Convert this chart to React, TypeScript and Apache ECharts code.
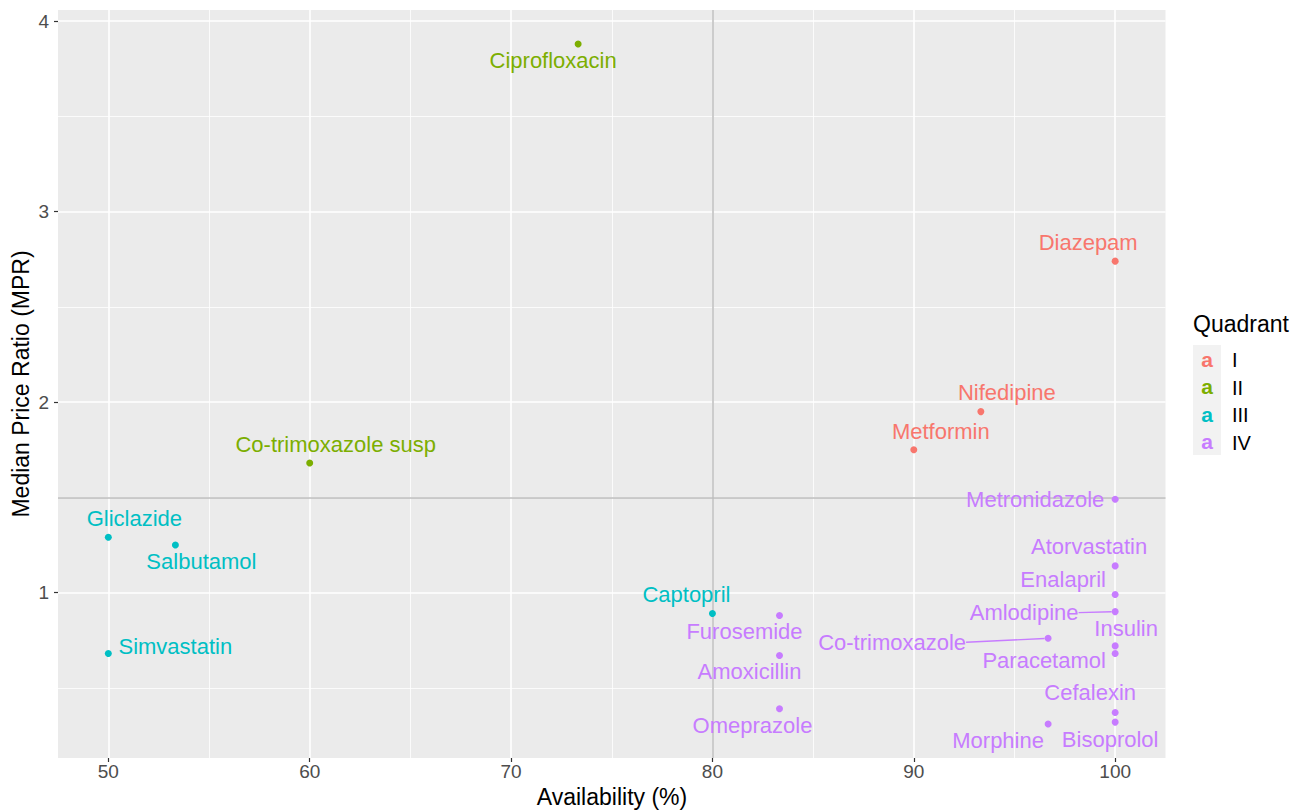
import React, { useEffect, useRef } from "react";
import * as echarts from "echarts";

// ---- data ----
const drugs = [
  "Diazepam", "Nifedipine", "Metformin", "Ciprofloxacin", "Co-trimoxazole susp",
  "Gliclazide", "Salbutamol", "Simvastatin", "Captopril", "Metronidazole",
  "Atorvastatin", "Enalapril", "Amlodipine", "Co-trimoxazole", "Insulin",
  "Paracetamol", "Furosemide", "Amoxicillin", "Omeprazole", "Cefalexin",
  "Bisoprolol", "Morphine",
];
const availability = [
  100, 93.33, 90, 73.33, 60,
  50, 53.33, 50, 80, 100,
  100, 100, 100, 96.67, 100,
  100, 83.33, 83.33, 83.33, 100,
  100, 96.67,
];
const mpr = [
  2.74, 1.95, 1.75, 3.88, 1.68,
  1.29, 1.25, 0.68, 0.89, 1.49,
  1.14, 0.99, 0.9, 0.76, 0.72,
  0.68, 0.88, 0.67, 0.39, 0.37,
  0.32, 0.31,
];
const quadrantOf = [
  "I", "I", "I", "II", "II",
  "III", "III", "III", "III", "IV",
  "IV", "IV", "IV", "IV", "IV",
  "IV", "IV", "IV", "IV", "IV",
  "IV", "IV",
];
const quadrants = ["I", "II", "III", "IV"];
const xTicks = [50, 60, 70, 80, 90, 100];
const yTicks = [1, 2, 3, 4];
const xCut = 80;
const yCut = 1.5;

// ---- styles (label placement, pixels) ----
const colors = ["#F8766D", "#7CAE00", "#00BFC4", "#C77CFF"];
const labelOffsets: number[][] = [
  [-27, -17], [26, -17], [27, -16], [-25, 18], [26, -17],
  [26, -17], [26, 19], [67, -5], [-26, -17], [-80, 2],
  [-26, -17], [-52, -13], [-91, 3], [-156, 6], [11, -15],
  [-71, 9], [-35, 18], [-30, 18], [-27, 19], [-25, -18],
  [-5, 19], [-50, 18],
];
const labelShiftY = -2;
const withConnector = ["Amlodipine", "Co-trimoxazole"];

const FONT = "Liberation Sans, Arial, Helvetica, sans-serif";

export default function App() {
  const ref = useRef<HTMLDivElement>(null);

  useEffect(() => {
    document.body.style.margin = "0";
    const chart = echarts.init(ref.current!, null, { renderer: "svg" });

    const xMin = Math.min(...availability), xMax = Math.max(...availability);
    const yMin = Math.min(...mpr), yMax = Math.max(...mpr);
    const xPad = (xMax - xMin) * 0.05, yPad = (yMax - yMin) * 0.05;

    const mid = (arr: number[]) => {
      const out: number[] = [];
      for (let i = 0; i < arr.length - 1; i++) out.push((arr[i] + arr[i + 1]) / 2);
      return out;
    };
    const xMinor = mid(xTicks);
    const yMinor = [yTicks[0] - 0.5, ...mid(yTicks)];

    const gridLines: any[] = [];
    xMinor.forEach((v) => gridLines.push({ xAxis: v, lineStyle: { color: "#FFFFFF", width: 0.8, type: "solid" } }));
    yMinor.forEach((v) => gridLines.push({ yAxis: v, lineStyle: { color: "#FFFFFF", width: 0.8, type: "solid" } }));
    xTicks.forEach((v) => gridLines.push({ xAxis: v, lineStyle: { color: "#FFFFFF", width: 1.6, type: "solid" } }));
    yTicks.forEach((v) => gridLines.push({ yAxis: v, lineStyle: { color: "#FFFFFF", width: 1.6, type: "solid" } }));
    gridLines.push({ xAxis: xCut, lineStyle: { color: "#BDBDBD", width: 1.5, type: "solid" } });
    gridLines.push({ yAxis: yCut, lineStyle: { color: "#BDBDBD", width: 1.5, type: "solid" } });

    const seriesIdx: number[][] = quadrants.map((q) =>
      drugs.map((_, i) => i).filter((i) => quadrantOf[i] === q)
    );

    const pointSeries = quadrants.map((q, qi) => ({
      type: "scatter",
      name: q,
      z: 3,
      symbol: "circle",
      symbolSize: 7,
      itemStyle: { color: colors[qi], opacity: 1 },
      label: {
        show: true,
        position: "inside",
        formatter: (p: any) => p.name,
        color: colors[qi],
        fontSize: 22,
        fontFamily: FONT,
      },
      labelLine: { show: false },
      labelLayout: (params: any) => {
        const gi = seriesIdx[qi][params.dataIndex];
        const off = labelOffsets[gi];
        return { dx: off[0], dy: off[1] + labelShiftY };
      },
      emphasis: { disabled: true },
      data: seriesIdx[qi].map((i) => ({
        name: drugs[i],
        value: [availability[i], mpr[i]],
        labelLine: withConnector.includes(drugs[i])
          ? { show: true, lineStyle: { color: colors[qi], width: 1.4 } }
          : { show: false },
      })),
    }));

    const option: any = {
      animation: false,
      grid: {
        left: 58,
        right: 145.5,
        top: 10,
        bottom: 54,
        show: true,
        backgroundColor: "#EBEBEB",
        borderWidth: 0,
      },
      xAxis: {
        type: "value",
        min: xMin - xPad,
        max: xMax + xPad,
        axisLine: { show: false },
        splitLine: { show: false },
        axisTick: {
          show: true,
          customValues: xTicks,
          length: 4,
          lineStyle: { color: "#333333", width: 1.2 },
        },
        axisLabel: {
          customValues: xTicks,
          color: "#4D4D4D",
          fontSize: 19,
          fontFamily: FONT,
          margin: 4,
        },
      },
      yAxis: {
        type: "value",
        min: yMin - yPad,
        max: yMax + yPad,
        axisLine: { show: false },
        splitLine: { show: false },
        axisTick: {
          show: true,
          customValues: yTicks,
          length: 4,
          lineStyle: { color: "#333333", width: 1.2 },
        },
        axisLabel: {
          customValues: yTicks,
          color: "#4D4D4D",
          fontSize: 19,
          fontFamily: FONT,
          margin: 9,
        },
      },
      series: [
        {
          type: "scatter",
          name: "grid",
          z: 1,
          data: [],
          silent: true,
          markLine: {
            silent: true,
            z: 1,
            symbol: "none",
            label: { show: false },
            emphasis: { disabled: true },
            data: gridLines,
          },
        },
        ...pointSeries,
      ],
      graphic: [
        {
          type: "text",
          x: 612,
          y: 797,
          style: {
            text: "Availability (%)",
            fontSize: 23,
            fontFamily: FONT,
            fill: "#000000",
            align: "center",
            verticalAlign: "middle",
          },
        },
        {
          type: "text",
          x: 21,
          y: 384,
          rotation: Math.PI / 2,
          style: {
            text: "Median Price Ratio (MPR)",
            fontSize: 23,
            fontFamily: FONT,
            fill: "#000000",
            align: "center",
            verticalAlign: "middle",
          },
        },
        {
          type: "text",
          x: 1193,
          y: 324,
          style: {
            text: "Quadrant",
            fontSize: 23,
            fontFamily: FONT,
            fill: "#000000",
            align: "left",
            verticalAlign: "middle",
          },
        },
        {
          type: "rect",
          shape: { x: 1193, y: 345, width: 28, height: 110 },
          style: { fill: "#F2F2F2" },
        },
        ...quadrants.flatMap((q, qi) => [
          {
            type: "text",
            x: 1207,
            y: 359 + qi * 27.5,
            style: {
              text: "a",
              fontSize: 21,
              fontFamily: FONT,
              fontWeight: "bold",
              fill: colors[qi],
              align: "center",
              verticalAlign: "middle",
            },
          },
          {
            type: "text",
            x: 1232,
            y: 360 + qi * 27.5,
            style: {
              text: q,
              fontSize: 20,
              fontFamily: FONT,
              fill: "#000000",
              align: "left",
              verticalAlign: "middle",
            },
          },
        ]),
      ],
    };

    chart.setOption(option);
    return () => chart.dispose();
  }, []);

  return <div ref={ref} style={{ width: 1311, height: 812 }} />;
}
